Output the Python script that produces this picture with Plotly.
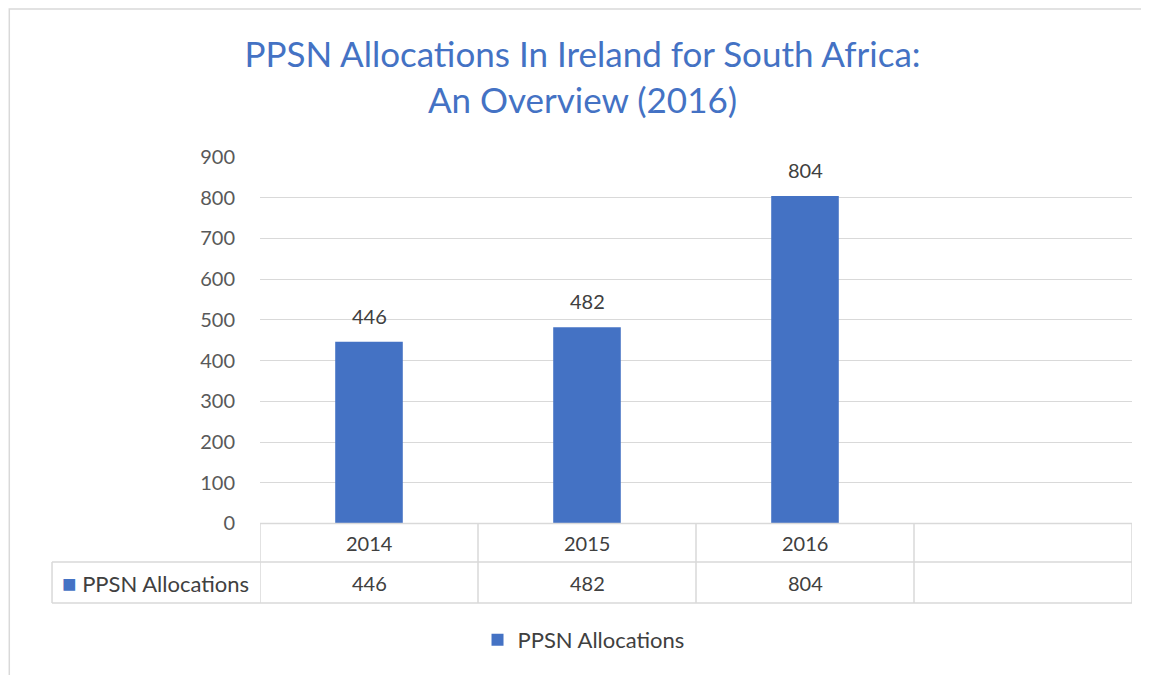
import plotly.graph_objects as go

# data
years = ["2014", "2015", "2016"]
allocations = [446, 482, 804]
series_name = "PPSN Allocations"
y_ticks = [0, 100, 200, 300, 400, 500, 600, 700, 800, 900]

BLUE = "#4472C4"
GRID = "#D9D9D9"
TXT = "#404040"
FONT = "Lato, 'Open Sans', sans-serif"
FS = 20

fig = go.Figure()
fig.add_trace(go.Bar(
    x=list(range(len(years))), y=allocations, name=series_name,
    marker=dict(color=BLUE, line=dict(width=0)),
    width=0.31,
))

# data labels above the bars
for i, v in enumerate(allocations):
    fig.add_annotation(x=i, y=v, xref="x", yref="y", text=str(v), showarrow=False,
                       yanchor="bottom", yshift=12, font=dict(size=FS, color=TXT, family=FONT))

# data table under the plot (rows in paper coords)
row_top, row_mid, row_bot = 0.1783, 0.0919, 0.0
left_edge = -0.2385
n_cols = len(years) + 1
line = dict(color=GRID, width=1.5)
shapes = []
shapes.append(dict(type="line", xref="x", yref="paper", x0=-0.5, x1=n_cols - 0.5, y0=row_top, y1=row_top, line=line))
for yy in (row_mid, row_bot):
    shapes.append(dict(type="line", xref="paper", yref="paper", x0=left_edge, x1=1, y0=yy, y1=yy, line=line))
shapes.append(dict(type="line", xref="paper", yref="paper", x0=left_edge, x1=left_edge, y0=row_bot, y1=row_mid, line=line))
for i in range(n_cols + 1):
    shapes.append(dict(type="line", xref="x", yref="paper", x0=i - 0.5, x1=i - 0.5, y0=row_bot, y1=row_top, line=line))
# outer chart frame
shapes.append(dict(type="rect", xref="paper", yref="paper", x0=-0.2875, x1=1.2, y0=-0.3, y1=1.332,
                   line=dict(color="#D9D9D9", width=1.5), layer="below"))

for i, (yr, v) in enumerate(zip(years, allocations)):
    fig.add_annotation(x=i, xref="x", y=(row_top + row_mid) / 2, yref="paper", text=yr, showarrow=False,
                       xanchor="center", yanchor="middle", font=dict(size=FS, color=TXT, family=FONT))
    fig.add_annotation(x=i, xref="x", y=(row_mid + row_bot) / 2, yref="paper", text=str(v), showarrow=False,
                       xanchor="center", yanchor="middle", font=dict(size=FS, color=TXT, family=FONT))
fig.add_annotation(x=-0.2294, xref="paper", y=(row_mid + row_bot) / 2, yref="paper",
                   text=f"<span style='color:{BLUE};font-size:24px'>■</span> {series_name}", showarrow=False,
                   xanchor="left", yanchor="middle", font=dict(size=22, color=TXT, family=FONT))

fig.update_layout(
    width=1149, height=675,
    margin=dict(l=252, r=25, t=149, b=80),
    paper_bgcolor="white", plot_bgcolor="white",
    font=dict(family=FONT, color=TXT),
    title=dict(text="PPSN Allocations In Ireland for South Africa:<br>An Overview (2016)",
               x=0.5, xanchor="center", y=0.912, yanchor="middle",
               font=dict(size=35, color=BLUE, family=FONT)),
    shapes=shapes,
    showlegend=True,
    legend=dict(orientation="h", x=0.371, xanchor="center", y=-0.083, yanchor="middle",
                font=dict(size=22, color=TXT, family=FONT)),
)
fig.update_xaxes(range=[-0.5, n_cols - 0.5], showticklabels=False,
                 showgrid=False, zeroline=False, showline=False, ticks="")
fig.update_yaxes(domain=[row_top, 1], range=[0, 900], tickvals=y_ticks, showgrid=True,
                 gridcolor=GRID, gridwidth=1, zeroline=False, showline=False,
                 tickfont=dict(size=FS, color="#595959", family=FONT), ticklabelstandoff=24)

fig.write_html("out.html")
